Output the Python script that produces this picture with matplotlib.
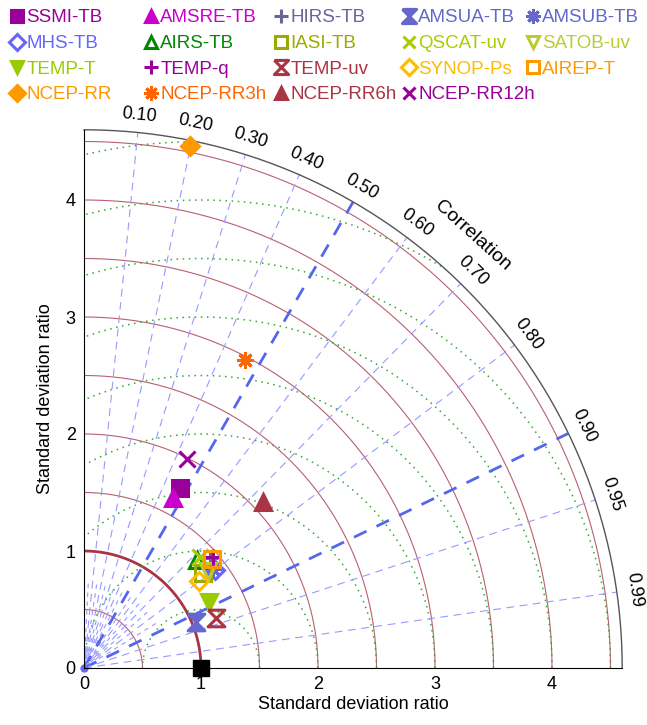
import numpy as np
import matplotlib.pyplot as plt
from matplotlib.path import Path
from matplotlib.patches import Wedge

plt.rcParams['font.family'] = ['Liberation Sans', 'DejaVu Sans']

# data: std ratio and correlation (as x, y of the diagram)
names = ["SSMI-TB", "AMSRE-TB", "HIRS-TB", "AMSUA-TB", "AMSUB-TB",
         "MHS-TB", "AIRS-TB", "IASI-TB", "QSCAT-uv", "SATOB-uv",
         "TEMP-T", "TEMP-q", "TEMP-uv", "SYNOP-Ps", "AIREP-T",
         "NCEP-RR", "NCEP-RR3h", "NCEP-RR6h", "NCEP-RR12h"]
x_vals = [0.82, 0.76, 1.08, 0.96, 1.10,
          1.12, 0.97, 1.02, 0.99, 1.06,
          1.07, 1.10, 1.13, 0.98, 1.09,
          0.91, 1.38, 1.53, 0.88]
y_vals = [1.54, 1.45, 0.94, 0.39, 0.85,
          0.84, 0.92, 0.81, 0.95, 0.83,
          0.56, 0.95, 0.43, 0.74, 0.93,
          4.46, 2.63, 1.42, 1.79]
colors = ["#990099", "#CC00CC", "#666699", "#6666CC", "#6666CC",
          "#6666FF", "#008800", "#99AA00", "#AACC00", "#BBCC33",
          "#99CC00", "#990099", "#AA3344", "#FFBB00", "#FF9900",
          "#FF9900", "#FF6600", "#AA3344", "#990099"]

hourglass = Path([(-1, 1), (1, 1), (-1, -1), (1, -1), (-1, 1)])
markers = ["s", "^", "+", hourglass, (8, 2, 0),
           "D", "^", "s", "x", "v",
           "v", "+", hourglass, "D", "s",
           "D", (8, 2, 0), "^", "x"]
filled = [True, True, True, True, True,
          False, False, False, True, False,
          True, True, False, False, False,
          True, True, True, True]

corr_ticks = [0.1, 0.2, 0.3, 0.4, 0.5, 0.6, 0.7, 0.8, 0.9, 0.95, 0.99]
rmax = 4.6

fig = plt.figure(figsize=(6.47, 7.25), dpi=100)
ax = fig.add_axes([84 / 647, 57 / 725, rmax * 117 / 647, rmax * 117 / 725])
ax.set_xlim(0, rmax)
ax.set_ylim(0, rmax)
ax.spines['top'].set_visible(False)
ax.spines['right'].set_visible(False)

th = np.linspace(0, np.pi / 2, 300)
wedge = Wedge((0, 0), rmax, 0, 90, transform=ax.transData)

# std circles
for r in np.arange(0.5, 4.51, 0.5):
    if r == 1.0:
        ax.plot(r * np.cos(th), r * np.sin(th), color="#AA3344", lw=2)
    else:
        ax.plot(r * np.cos(th), r * np.sin(th), color="#B86070", lw=0.8)

# rms circles around the reference point
t2 = np.linspace(0, np.pi, 400)
for r in np.arange(0.5, 6.01, 0.5):
    ln, = ax.plot(1 + r * np.cos(t2), r * np.sin(t2), color="#33AA33",
                  lw=1.1, ls=(0, (1, 3)))
    ln.set_clip_path(wedge)

# short extra spokes near the origin
for c in np.arange(0.05, 0.9, 0.1):
    a = np.arccos(c)
    ax.plot([0, 0.75 * np.cos(a)], [0, 0.75 * np.sin(a)], color="#9999FF",
            lw=0.8, dashes=(4, 4))

# correlation lines
for c in corr_ticks:
    a = np.arccos(c)
    if c in (0.5, 0.9):
        ax.plot([0, rmax * np.cos(a)], [0, rmax * np.sin(a)], color="#5566EE",
                lw=2, dashes=(5, 4))
    else:
        ax.plot([0, rmax * np.cos(a)], [0, rmax * np.sin(a)], color="#9999FF",
                lw=0.8, dashes=(7, 5))
    ang = np.degrees(a)
    ax.text(4.75 * np.cos(a), 4.75 * np.sin(a), f"{c:.2f}", rotation=ang - 90,
            ha="center", va="center", fontsize=13, rotation_mode="anchor")

ax.plot(rmax * np.cos(th), rmax * np.sin(th), color="#555555", lw=1, clip_on=False)
a_lab = np.radians(48)
ax.text(4.97 * np.cos(a_lab), 4.97 * np.sin(a_lab), "Correlation", rotation=48 - 90,
        ha="center", va="center", fontsize=14, rotation_mode="anchor")

ax.plot(0, 0, "o", color="#6666FF", ms=5, clip_on=False)
ax.plot(1, 0, "s", color="black", ms=11, clip_on=False, zorder=5)

sizes = {"D": 9, "+": 12, "x": 11, "s": 11, "^": 11, "v": 11}
for i in range(len(names)):
    ms = sizes.get(markers[i], 12) if isinstance(markers[i], str) else 12
    if filled[i]:
        ax.plot(x_vals[i], y_vals[i], ls="none", marker=markers[i], color=colors[i],
                ms=ms, mew=2.2, label=names[i], zorder=4)
    else:
        ax.plot(x_vals[i], y_vals[i], ls="none", marker=markers[i], color=colors[i],
                mfc="none", ms=ms, mew=2.2, label=names[i], zorder=4)

ax.set_xticks([0, 1, 2, 3, 4])
ax.set_yticks([0, 1, 2, 3, 4])
ax.tick_params(length=0, labelsize=13, pad=6)
ax.set_xlabel("Standard deviation ratio", fontsize=13, labelpad=2)
ax.set_ylabel("Standard deviation ratio", fontsize=13, labelpad=8)

# one legend per column so the columns sit at even steps like the original
handles, labels = ax.get_legend_handles_labels()
col_x = [0, 134, 264, 392, 516]
for j in range(5):
    idx = [j + 5 * r for r in range(4) if j + 5 * r < len(names)]
    leg = fig.legend([handles[k] for k in idx], [labels[k] for k in idx],
                     loc="upper left", bbox_to_anchor=(col_x[j] / 647, 1.0),
                     frameon=False, fontsize=13.5, handlelength=0.8, handletextpad=0.1,
                     labelspacing=0.45, borderaxespad=0.1, markerscale=0.85)
    for txt, h in zip(leg.get_texts(), leg.legend_handles):
        txt.set_color(h.get_color())

fig.savefig("out.png", dpi=100)
